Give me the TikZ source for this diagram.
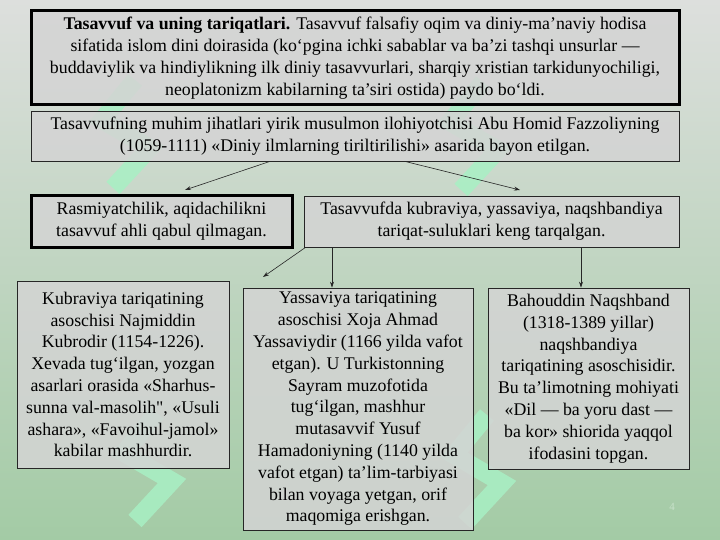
\documentclass[tikz,border=0pt]{standalone}
\usepackage{fontspec}
\setmainfont{Liberation Serif}[Ligatures=TeXOff]
\usetikzlibrary{arrows.meta}
\definecolor{bgtop}{RGB}{221,223,221}
\definecolor{bgbot}{RGB}{163,203,165}
\definecolor{boxfill}{RGB}{212,212,212}
\definecolor{mint}{RGB}{168,240,196}
\definecolor{pgnum}{RGB}{200,225,202}
\newcommand\wmark[1]{\begin{scope}[shift={#1}]
  \draw[wm] (0,0) -- (-33,40) -- (15,68) -- (-22,108);
\end{scope}}
\begin{document}
\begin{tikzpicture}[x=1pt,y=-1pt,
  box/.style={draw=black!85, line width=0.8pt, fill=boxfill, fill opacity=0.85,
    text opacity=1, align=center, inner sep=0pt,
    font=\fontsize{17.8}{21.8}\selectfont},
  thickbox/.style={box, draw=black, line width=3pt},
  arr/.style={-{Stealth[length=6pt,width=4pt]}, line width=0.6pt, draw=black!85},
  wm/.style={draw=mint, line width=18pt, line join=miter, line cap=butt, opacity=0.85}]
\useasboundingbox (0,0) rectangle (720,540);
\shade[top color=bgtop, bottom color=bgbot] (0,0) rectangle (720,540);
\wmark{(135,80)}
\wmark{(483,82)}
\wmark{(157,413)}
\wmark{(487,415)}
\node[thickbox, minimum width=648pt, minimum height=94pt] (b1) at (355,58)
 {\textbf{Tasavvuf va uning tariqatlari.} Tasavvuf falsafiy oqim va diniy-ma’naviy hodisa\\
  sifatida islom dini doirasida (ko‘pgina ichki sabablar va ba’zi tashqi unsurlar —\\
  buddaviylik va hindiylikning ilk diniy tasavvurlari, sharqiy xristian tarkidunyochiligi,\\
  neoplatonizm kabilarning ta’siri ostida) paydo bo‘ldi.};
\node[box, minimum width=648pt, minimum height=50pt] (b2) at (355,136)
 {Tasavvufning muhim jihatlari yirik musulmon ilohiyotchisi Abu Homid Fazzoliyning\\
  (1059-1111) «Diniy ilmlarning tiriltirilishi» asarida bayon etilgan.};
\node[thickbox, minimum width=261pt, minimum height=51pt] (b3) at (161.5,221.5)
 {Rasmiyatchilik, aqidachilikni\\ tasavvuf ahli qabul qilmagan.};
\node[box, minimum width=375pt, minimum height=51pt] (b4) at (491.5,221.5)
 {Tasavvufda kubraviya, yassaviya, naqshbandiya\\ tariqat-suluklari keng tarqalgan.};
\node[box, minimum width=212pt, minimum height=187pt] (b5) at (123,374.5)
 {Kubraviya tariqatining\\ asoschisi Najmiddin\\ Kubrodir (1154-1226).\\ Xevada tug‘ilgan, yozgan\\
  asarlari orasida «Sharhus-\\ sunna val-masolih", «Usuli\\ ashara», «Favoihul-jamol»\\ kabilar mashhurdir.};
\node[box, minimum width=230pt, minimum height=242pt] (b6) at (358,409)
 {Yassaviya tariqatining\\ asoschisi Xoja Ahmad\\ Yassaviydir (1166 yilda vafot\\ etgan). U Turkistonning\\
  Sayram muzofotida\\ tug‘ilgan, mashhur\\ mutasavvif Yusuf\\ Hamadoniyning (1140 yilda\\
  vafot etgan) ta’lim-tarbiyasi\\ bilan voyaga yetgan, orif\\ maqomiga erishgan.};
\node[box, minimum width=201pt, minimum height=181pt] (b7) at (588.5,378.5)
 {Bahouddin Naqshband\\ (1318-1389 yillar)\\ naqshbandiya\\ tariqatining asoschisidir.\\
  Bu ta’limotning mohiyati\\ «Dil — ba yoru dast —\\ ba kor» shiorida yaqqol\\ ifodasini topgan.};
\node[text=pgnum, font=\fontsize{11}{12}\selectfont] (pg) at (672,507) {4};
\coordinate (e1) at (185,190);
\coordinate (e2) at (520,190);
\coordinate (e3) at (263,277);
\draw[arr] ([xshift=-85pt]b2.south) -- (e1);
\draw[arr] ([xshift=50pt]b2.south) -- (e2);
\draw[arr] ([xshift=-186pt]b4.south) -- (e3);
\draw[arr] ([xshift=-159.5pt]b4.south) -- ([xshift=-26pt]b6.north);
\draw[arr] ([xshift=89.5pt]b4.south) -- ([xshift=-7.5pt]b7.north);
\end{tikzpicture}
\end{document}
